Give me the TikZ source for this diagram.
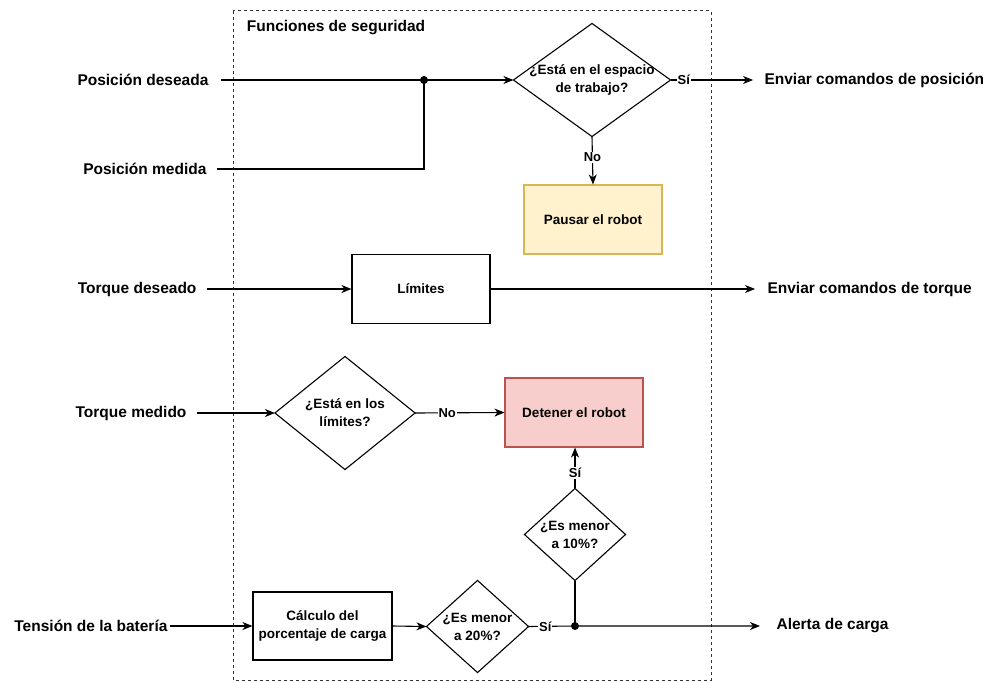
\documentclass[tikz,border=0pt]{standalone}
\usepackage{fontspec}
\setmainfont{Liberation Sans}
\usetikzlibrary{arrows.meta}
\definecolor{pausefill}{HTML}{FFF2CC}
\definecolor{pausedraw}{HTML}{D6B656}
\definecolor{stopfill}{HTML}{F8CECC}
\definecolor{stopdraw}{HTML}{B85450}
\definecolor{framegray}{HTML}{333333}
\begin{document}
\begin{tikzpicture}[x=1pt,y=-1pt,
  line width=1.1pt,
  every node/.style={font=\bfseries},
  outer/.style={font=\fontsize{15.5}{18}\bfseries, inner sep=0pt},
  procbox/.style={draw, minimum width=138pt, minimum height=69pt, inner sep=0pt, font=\fontsize{13.5}{18}\bfseries, align=center},
  decision/.style={minimum width=#1, inner sep=0pt, font=\fontsize{13.5}{18}\bfseries, align=center},
  lab/.style={font=\fontsize{13}{15}\bfseries, fill=white, inner sep=1pt},
  arr/.style={-{Stealth[length=10pt,width=8pt,inset=3pt]}},
  dot/.style={circle, fill=black, inner sep=0pt, minimum size=8pt}
]
\useasboundingbox (0,0) rectangle (995,682);

% safety-functions frame
\draw[framegray, line width=1pt, dash pattern=on 3pt off 3pt] (233,11) rectangle (711,680);
\node[anchor=west, font=\fontsize{15.5}{18}\bfseries] (title) at (243,28) {Funciones de seguridad};

% inputs
\node[outer, anchor=east] (pdes) at (209,80) {Posición deseada};
\node[outer, anchor=east] (pmed) at (207,169) {Posición medida};
\node[outer, anchor=east] (tdes) at (197,289) {Torque deseado};
\node[outer, anchor=east] (tmed) at (187,413) {Torque medido};
\node[outer, anchor=east] (bat) at (168,626) {Tensión de la batería};

% outputs
\node[outer, anchor=west] (opos) at (764,80) {Enviar comandos de posición};
\node[outer, anchor=west] (otor) at (767,289) {Enviar comandos de torque};
\node[outer, anchor=west] (oal) at (776,626) {Alerta de carga};

% decisions
\node[decision=156pt, minimum height=112pt] (d1) at (592,80) {¿Está en el espacio\\de trabajo?};
\node[decision=139pt, minimum height=112pt] (d2) at (345,413) {¿Está en los\\límites?};
\node[decision=100pt, minimum height=91pt] (d3) at (575,534.5) {¿Es menor\\a 10\%?};
\node[decision=101pt, minimum height=91pt] (d4) at (477.5,626.5) {¿Es menor\\a 20\%?};
\foreach \d in {d1,d2,d3,d4}
  \draw (\d.north) -- (\d.east) -- (\d.south) -- (\d.west) -- cycle;

% process boxes
\node[procbox, fill=pausefill, draw=pausedraw] (pause) at (593,219.5) {Pausar el robot};
\node[procbox] (lim) at (421,289) {Límites};
\node[procbox, fill=stopfill, draw=stopdraw] (stop) at (574,412.5) {Detener el robot};
\node[procbox, minimum width=139pt, minimum height=68pt] (calc) at (322.5,626) {Cálculo del\\porcentaje de carga};

% junctions
\node[dot] (j1) at (424,80) {};
\node[dot] (j2) at (575,626) {};

% position branch
\draw[arr] ([xshift=12pt]pdes.east) -- (d1.west);
\draw ([xshift=10pt]pmed.east) -| (j1.center);
\draw[arr] (d1.east) -- node[lab, pos=0.16] {Sí} ([xshift=-11pt]opos.west);
\draw[arr] (d1.south) -- node[lab, pos=0.43] {No} (pause.north);

% torque command branch
\draw[arr] ([xshift=10pt]tdes.east) -- (lim.west);
\draw[arr] (lim.east) -- ([xshift=-12pt]otor.west);

% measured torque branch
\draw[arr] ([xshift=10pt]tmed.east) -- (d2.west);
\draw[arr] (d2.east) -- node[lab, pos=0.36] {No} (stop.west);

% battery branch
\draw[arr] ([xshift=2pt]bat.east) -- (calc.west);
\draw[arr] (calc.east) -- (d4.west);
\draw[arr] (d4.east) -- node[lab, pos=0.36] {Sí} (j2.center) -- ([xshift=-16pt]oal.west);
\draw (d3.south) -- (j2.center);
\draw[arr] (d3.north) -- node[lab, pos=0.38] {Sí} (d3.north |- stop.south);
\end{tikzpicture}
\end{document}
